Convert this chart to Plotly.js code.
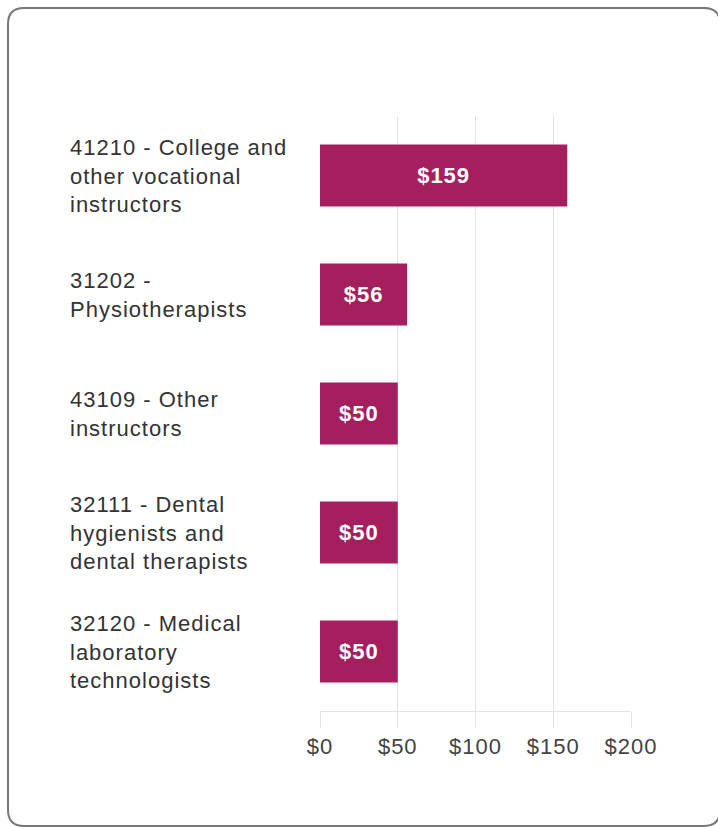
<!DOCTYPE html>
<html>
<head>
<meta charset="utf-8">
<script src="https://cdn.plot.ly/plotly-3.0.1.min.js"></script>
<style>
  html, body { margin: 0; padding: 0; background: #ffffff; }
  #chart { width: 718px; height: 827px; }
  #chart svg text { letter-spacing: 1px; }
</style>
</head>
<body>
<div id="chart"></div>
<script>
// ---- data ----
var categories = [
  "41210 - College and<br>other vocational<br>instructors",
  "31202 -<br>Physiotherapists",
  "43109 - Other<br>instructors",
  "32111 - Dental<br>hygienists and<br>dental therapists",
  "32120 - Medical<br>laboratory<br>technologists"
];
var values = [159, 56, 50, 50, 50];
var valueLabels = ["$159", "$56", "$50", "$50", "$50"];
var tickValues = [0, 50, 100, 150, 200];
var tickLabels = ["$0", "$50", "$100", "$150", "$200"];

// ---- layout helpers (pixel geometry) ----
var W = 718, H = 827;
var M = { l: 320, r: 87, t: 116, b: 116 };
var pw = W - M.l - M.r, ph = H - M.t - M.b;
function px(x) { return (x - M.l) / pw; }
function py(y) { return (H - M.b - y) / ph; }

// rounded border path in paper coordinates
var bx0 = 8, bx1 = 720, by0 = 8, by1 = 826, rad = 16;
function P(x, y) { return px(x) + "," + py(y); }
var borderPath =
  "M" + P(bx0 + rad, by0) +
  " L" + P(bx1 - rad, by0) +
  " Q" + P(bx1, by0) + " " + P(bx1, by0 + rad) +
  " L" + P(bx1, by1 - rad) +
  " Q" + P(bx1, by1) + " " + P(bx1 - rad, by1) +
  " L" + P(bx0 + rad, by1) +
  " Q" + P(bx0, by1) + " " + P(bx0, by1 - rad) +
  " L" + P(bx0, by0 + rad) +
  " Q" + P(bx0, by0) + " " + P(bx0 + rad, by0) + " Z";

var fontFamily = "Liberation Sans, Arial, sans-serif";

var trace = {
  type: "bar",
  orientation: "h",
  y: categories,
  x: values,
  text: valueLabels,
  textinfo: "text",
  marker: { color: "#a51f5f" },
  textposition: "inside",
  insidetextanchor: "middle",
  textangle: 0,
  textfont: { family: fontFamily, size: 22, color: "#ffffff", weight: "bold" },
  hoverinfo: "none"
};

var annotations = categories.map(function (c) {
  return {
    xref: "paper", yref: "y",
    x: 0, y: c,
    xanchor: "left", yanchor: "middle",
    xshift: -252,
    text: c,
    align: "left",
    showarrow: false,
    font: { family: fontFamily, size: 22, color: "#333333" }
  };
});

var layout = {
  width: W, height: H,
  margin: M,
  paper_bgcolor: "#ffffff",
  plot_bgcolor: "#ffffff",
  showlegend: false,
  bargap: 0.48,
  font: { family: fontFamily, size: 22, color: "#444444" },
  xaxis: {
    range: [0, 200],
    tickvals: tickValues,
    ticktext: tickLabels,
    showgrid: true,
    gridcolor: "#e2e2e2",
    gridwidth: 1,
    zeroline: false,
    showline: true,
    linecolor: "#e2e2e2",
    linewidth: 1,
    ticks: "outside",
    ticklen: 16,
    tickcolor: "#e2e2e2",
    tickfont: { family: fontFamily, size: 22, color: "#444444" },
    fixedrange: true
  },
  yaxis: {
    autorange: "reversed",
    showticklabels: false,
    showgrid: false,
    zeroline: false,
    showline: false,
    ticks: "",
    fixedrange: true
  },
  annotations: annotations,
  shapes: [{
    type: "path",
    xref: "paper", yref: "paper",
    path: borderPath,
    line: { color: "#777777", width: 2 },
    fillcolor: "rgba(0,0,0,0)",
    layer: "above"
  }]
};

Plotly.newPlot("chart", [trace], layout, { displayModeBar: false, staticPlot: true });
</script>
</body>
</html>
